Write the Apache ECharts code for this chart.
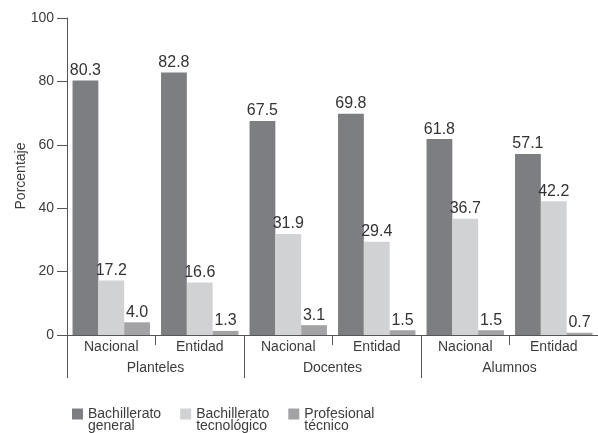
<!DOCTYPE html>
<html>
<head>
<meta charset="utf-8">
<script src="https://cdn.jsdelivr.net/npm/echarts@6/dist/echarts.min.js"></script>
<style>
html,body{margin:0;padding:0;background:#fff;}
#c{width:598px;height:433px;}
</style>
</head>
<body>
<div id="c"></div>
<script>
var categories = ['Nacional', 'Entidad', 'Nacional', 'Entidad', 'Nacional', 'Entidad'];
var groups = ['Planteles', 'Docentes', 'Alumnos'];
var seriesNames = ['Bachillerato general', 'Bachillerato tecnológico', 'Profesional técnico'];
var legendLabels = ['Bachillerato\ngeneral', 'Bachillerato\ntecnológico', 'Profesional\ntécnico'];
var yAxisTitle = 'Porcentaje';
var bachGeneral = [80.3, 82.8, 67.5, 69.8, 61.8, 57.1];
var bachTecnologico = [17.2, 16.6, 31.9, 29.4, 36.7, 42.2];
var profTecnico = [4.0, 1.3, 3.1, 1.5, 1.5, 0.7];
var yTicks = [0, 20, 40, 60, 80, 100];

var colors = ['#7d7e82', '#d1d2d4', '#a3a3a6'];
var font = 'Liberation Sans, Arial, Helvetica, sans-serif';
var axisColor = '#555';

function mkSeries(name, data, color) {
  return {
    name: name,
    type: 'bar',
    data: data,
    barGap: 0,
    barCategoryGap: '12.5%',
    itemStyle: { color: color },
    label: {
      show: true,
      position: 'top',
      distance: 2,
      fontFamily: font,
      fontSize: 16,
      color: '#333',
      formatter: function (p) { return p.value.toFixed(1); }
    }
  };
}

var chart = echarts.init(document.getElementById('c'), null, { renderer: 'canvas' });
chart.setOption({
  animation: false,
  backgroundColor: '#fff',
  textStyle: { fontFamily: font },
  grid: { left: 67, top: 18, bottom: 98, right: -4, containLabel: false },
  graphic: [{
    type: 'text',
    x: 21,
    y: 176,
    rotation: Math.PI / 2,
    style: {
      text: yAxisTitle,
      fontFamily: font,
      fontSize: 14,
      fill: '#3c3c3c',
      align: 'center',
      verticalAlign: 'middle'
    }
  }],
  legend: {
    left: 67,
    top: 390,
    itemWidth: 11,
    itemHeight: 11,
    itemGap: 19,
    icon: 'rect',
    selectedMode: false,
    data: seriesNames,
    formatter: function (n) { return '\n' + legendLabels[seriesNames.indexOf(n)]; },
    textStyle: {
      fontFamily: font,
      fontSize: 14,
      color: '#3c3c3c',
      lineHeight: 12
    }
  },
  xAxis: [
    {
      type: 'category',
      data: categories,
      position: 'bottom',
      axisLine: { show: true, lineStyle: { color: axisColor, width: 1 } },
      axisTick: { show: true, length: 10, lineStyle: { color: axisColor } },
      axisLabel: { margin: 5, fontFamily: font, fontSize: 14, color: '#3c3c3c' }
    },
    {
      type: 'category',
      data: groups,
      position: 'bottom',
      offset: 0,
      axisLine: { show: false },
      axisTick: { show: true, length: 43, lineStyle: { color: axisColor } },
      axisLabel: { margin: 26, fontFamily: font, fontSize: 14, color: '#3c3c3c' }
    }
  ],
  yAxis: {
    type: 'value',
    min: yTicks[0],
    max: yTicks[yTicks.length - 1],
    interval: 20,
    axisLine: { show: true, lineStyle: { color: axisColor } },
    axisTick: { show: true, length: 10, lineStyle: { color: axisColor } },
    axisLabel: { margin: 13, fontFamily: font, fontSize: 14, color: '#3c3c3c' },
    splitLine: { show: false }
  },
  series: [
    mkSeries(seriesNames[0], bachGeneral, colors[0]),
    mkSeries(seriesNames[1], bachTecnologico, colors[1]),
    mkSeries(seriesNames[2], profTecnico, colors[2])
  ]
});
</script>
</body>
</html>
